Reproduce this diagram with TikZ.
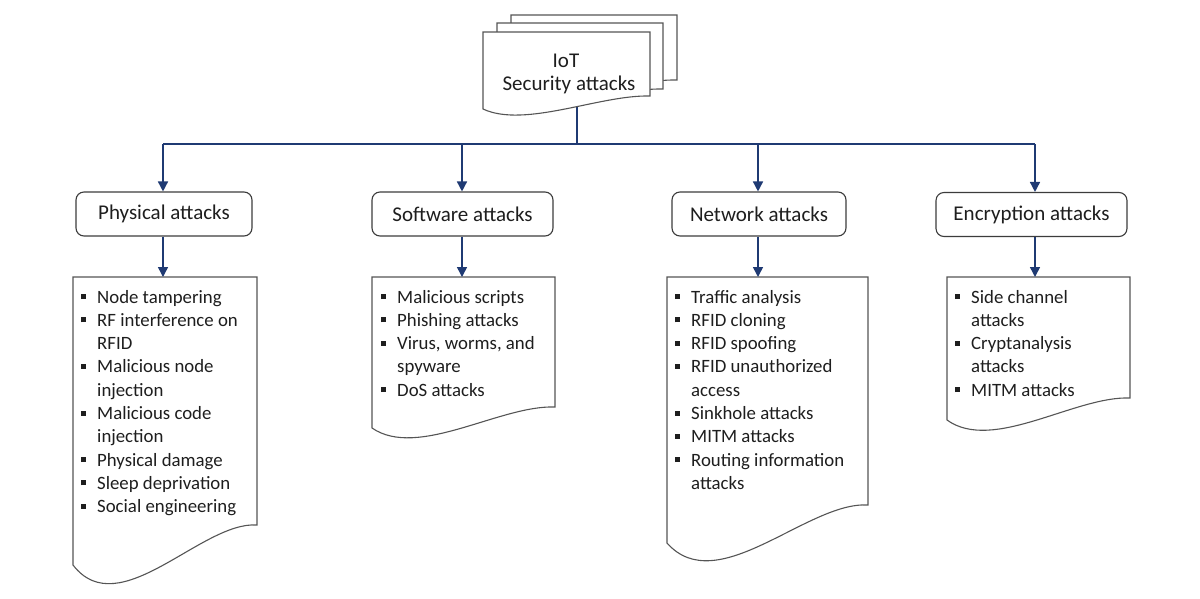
\documentclass[tikz,border=0pt]{standalone}
\usepackage{fontspec}
\setmainfont{Carlito}
\usetikzlibrary{arrows.meta}
\definecolor{navy}{HTML}{1F3A73}
\definecolor{edgec}{HTML}{3C3C3C}
\definecolor{docc}{HTML}{555555}
\definecolor{txt}{HTML}{1E1E1E}
% document shape: x0 y0 x1 yRight yLeft
\newcommand\docpath[5]{%
  \draw[docst] (#1,#2) -- (#3,#2) -- (#3,#4)
    .. controls ({#1+0.7*(#3-#1)},{#4-0.1*(#5-#4)}) and ({#1+0.25*(#3-#1)},{#5+1.5*(#5-#4)}) .. (#1,#5) -- cycle;}
\newcommand\itm[1]{\par\hangindent=16pt\hangafter=1\noindent\makebox[16pt][l]{\raisebox{4pt}{\rule{5pt}{5pt}}}#1\par}
\newcommand\lstbox[1]{\begin{minipage}[t]{300pt}\fontsize{18.8}{23.3}\selectfont #1\end{minipage}}
\tikzset{
  conn/.style={draw=navy, line width=1.5pt},
  arr/.style={conn, -{Triangle[width=10pt,length=10pt]}},
  docst/.style={draw=docc, line width=1.1pt, fill=white},
  catbox/.style={draw=edgec, line width=1.1pt, rounded corners=8pt, fill=white,
    minimum height=44pt, inner sep=0pt, text=txt, font=\fontsize{21}{25}\selectfont},
  toptxt/.style={anchor=base, inner sep=0pt, text=txt, font=\fontsize{21}{25}\selectfont},
  lsttxt/.style={anchor=base west, inner sep=0pt, text=txt}
}
\begin{document}
\begin{tikzpicture}[x=1pt,y=-1pt]
\useasboundingbox[fill=white] (0,0) rectangle (1200,598);

% connectors (top)
\coordinate (top) at (577,106);
\coordinate (bus) at (577,144);
\coordinate (b1) at (163,144);
\coordinate (b2) at (462,144);
\coordinate (b3) at (758,144);
\coordinate (b4) at (1035,144);
\draw[conn] (top) -- (bus);
\draw[conn] (b1) -- (b4);

% stacked documents
\docpath{511}{15}{677}{80}{93}
\docpath{497}{23}{663}{89}{102}
\docpath{483}{32}{650}{96}{109}
\node[toptxt] (iot1) at (566,67) {IoT};
\node[toptxt] (iot2) at (569,90) {Security attacks};

% category boxes
\node[catbox, minimum width=176pt] (phys) at (164,214) {Physical attacks};
\node[catbox, minimum width=181pt] (soft) at (462.5,214) {Software attacks};
\node[catbox, minimum width=174pt] (net) at (759,214) {Network attacks};
\node[catbox, minimum width=191pt] (enc) at (1031.5,214.5) {Encryption attacks};

\draw[arr] (b1) -- (b1 |- phys.north);
\draw[arr] (b2) -- (b2 |- soft.north);
\draw[arr] (b3) -- (b3 |- net.north);
\draw[arr] (b4) -- (b4 |- enc.north);

% list documents
\coordinate (l1) at (163,277);
\coordinate (l2) at (462,277);
\coordinate (l3) at (758,277);
\coordinate (l4) at (1035,277);
\docpath{73}{277}{257}{525}{565}
\docpath{372}{277}{555}{407}{428}
\docpath{667}{277}{868}{505}{543}
\docpath{947}{277}{1130}{398}{420}

\draw[arr] (l1 |- phys.south) -- (l1);
\draw[arr] (l2 |- soft.south) -- (l2);
\draw[arr] (l3 |- net.south) -- (l3);
\draw[arr] (l4 |- enc.south) -- (l4);

\node[lsttxt] (t1) at (81,303) {\lstbox{%
\itm{Node tampering}
\itm{RF interference on\\RFID}
\itm{Malicious node\\injection}
\itm{Malicious code\\injection}
\itm{Physical damage}
\itm{Sleep deprivation}
\itm{Social engineering}}};

\node[lsttxt] (t2) at (381,303) {\lstbox{%
\itm{Malicious scripts}
\itm{Phishing attacks}
\itm{Virus, worms, and\\spyware}
\itm{DoS attacks}}};

\node[lsttxt] (t3) at (675,303) {\lstbox{%
\itm{Traffic analysis}
\itm{RFID cloning}
\itm{RFID spoofing}
\itm{RFID unauthorized\\access}
\itm{Sinkhole attacks}
\itm{MITM attacks}
\itm{Routing information\\attacks}}};

\node[lsttxt] (t4) at (955,303) {\lstbox{%
\itm{Side channel\\attacks}
\itm{Cryptanalysis\\attacks}
\itm{MITM attacks}}};
\end{tikzpicture}
\end{document}
